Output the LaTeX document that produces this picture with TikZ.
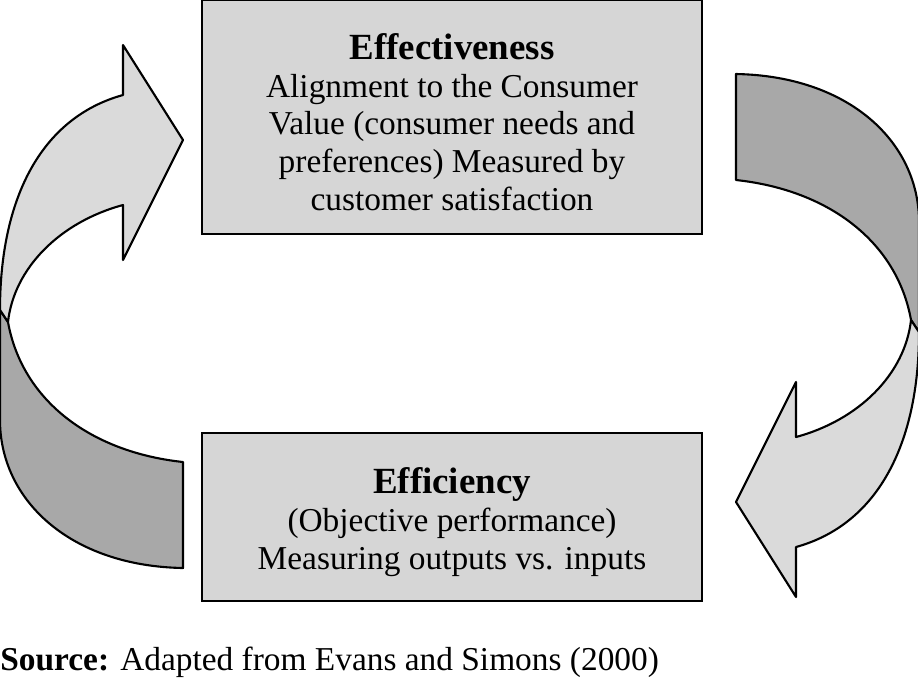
\documentclass[tikz,border=0pt]{standalone}
\usepackage{fontspec}
\setmainfont{Liberation Serif}
\usepackage{xcolor}
\usetikzlibrary{positioning}
\definecolor{boxgray}{HTML}{D6D6D6}
\definecolor{lightband}{HTML}{DADADA}
\definecolor{darkband}{HTML}{A8A8A8}
\tikzstyle{block} = [rectangle, draw, line width=1.2pt, fill=boxgray, inner sep=0pt]
\tikzstyle{band} = [draw, line width=1.2pt, line join=round]
\tikzset{every node/.style={align=center}}
\newcommand{\headtxt}[1]{{\fontsize{21}{26}\selectfont\bfseries #1}}
\begin{document}
\begin{tikzpicture}[x=0.02cm, y=-0.02cm, font=\fontsize{19}{21.5}\selectfont]
    \useasboundingbox (0,0) rectangle (918,681);
    \node (effbox) [block, minimum width=500*0.02cm, minimum height=234*0.02cm] at (452,117) {};
    \node (effic) [block, minimum width=500*0.02cm, minimum height=168*0.02cm] at (452,517) {};
    \node (efftxt) at (452,122) {\headtxt{Effectiveness}\\Alignment to the Consumer\\Value (consumer needs and\\preferences) Measured by\\customer satisfaction};
    \node (efctxt) at (452,522) {\headtxt{Efficiency}\\(Objective performance)\\Measuring outputs vs. inputs};
    \node (source) [anchor=west, inner sep=0pt] at (0,662) {\textbf{Source:} Adapted from Evans and Simons (2000)};

    % two twisted arrows, the right one is the left one turned round
    \foreach \ang in {0,180} {
    \begin{scope}[rotate around={\ang:(459.5,321)}]
        \draw [band, fill=darkband] (183,462) .. controls (90,452) and (22,400) .. (8,322)
            -- (0,310) -- (0,420) .. controls (0,500) and (70,566) .. (183,568) -- cycle;
        \draw [band, fill=lightband] (123,205) .. controls (60,222) and (14,268) .. (8,322)
            -- (0,310) .. controls (0,200) and (40,118) .. (123,95)
            -- (123,45) -- (183,140) -- (123,260) -- cycle;
    \end{scope}
    }
\end{tikzpicture}
\end{document}
